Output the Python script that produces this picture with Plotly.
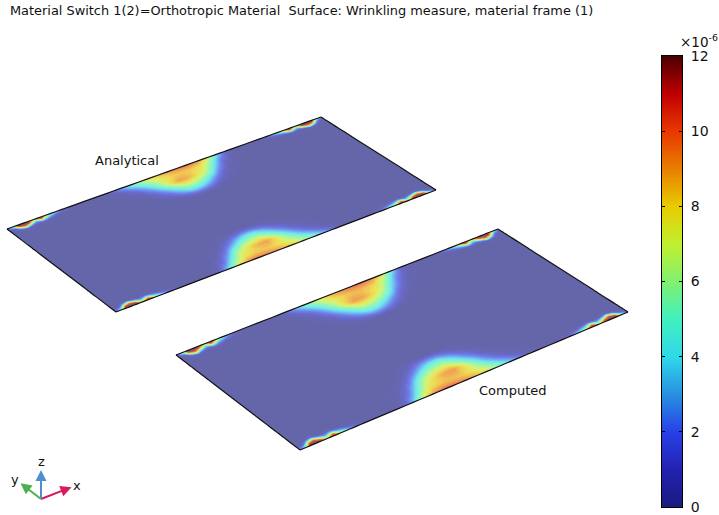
import plotly.graph_objects as go

# Plate parameter grid: a runs along the long edges, b across the short edges.
TOOTH_A = [0, .02, .035, .05, .065, .085, .105, .125, .15, .175, .2]
TOOTH_B = [0, .012, .025, .04, .055]
LOBE_A = [.30, .33, .36, .39, .42, .45, .48, .51, .54, .57, .60, .63, .66, .69, .72]
LOBE_B = [0, .02, .05, .08, .11, .14, .17, .20, .23, .26, .30]

# Wrinkling measure (units of 1e-6) near the plate corners.
TEETH_ANALYTICAL = [
    [1, 6, 12, 12, 12, 8, 12, 8, 4, 1.5, 0],
    [.5, 4, 12, 12, 12, 5, 11, 5, 2.5, .8, 0],
    [0, 1.5, 8, 11, 8, 3, 6, 3, 1, .2, 0],
    [0, .2, 3, 6, 3, 1, 2, 1, .1, 0, 0],
    [0, 0, .2, .8, .2, 0, .2, 0, 0, 0, 0],
]
TEETH_COMPUTED = [
    [1, 6, 12, 12, 12, 8, 12, 8, 4, 1.5, 0],
    [.5, 4, 12, 12, 11, 5, 11, 5, 2.5, .8, 0],
    [0, 1.5, 8, 11, 7, 3, 6, 3, 1, .2, 0],
    [0, .2, 3, 6, 2.5, 1, 2, 1, .1, 0, 0],
    [0, 0, .2, .8, .2, 0, .2, 0, 0, 0, 0],
]
# Wrinkling measure across the hot lobe on each long edge.
LOBE_ANALYTICAL_TOP = [
    [.1, 1, 3, 4.8, 6.2, 7.6, 8.6, 9.4, 10, 10.2, 9.6, 8, 4.6, 1.2, .1],
    [0, .4, 2, 3.8, 5.6, 7.2, 8.2, 8.8, 9.2, 9.3, 8.8, 7, 3.6, .7, 0],
    [0, .1, .8, 2.6, 4.4, 6.4, 7.6, 8.2, 8.4, 8.3, 7.8, 5.6, 2.2, .3, 0],
    [0, 0, .3, 1.4, 3.4, 5.6, 7.6, 8.6, 8.6, 8, 7.2, 4.2, 1.2, .1, 0],
    [0, 0, .1, .7, 2.4, 4.6, 7.6, 9.2, 8.8, 7.8, 6.2, 3, .6, 0, 0],
    [0, 0, 0, .3, 1.5, 3.6, 6, 8, 7.8, 6.8, 4.8, 1.8, .2, 0, 0],
    [0, 0, 0, .1, .8, 2.5, 4.6, 6.6, 6.4, 5.2, 3.2, .8, .1, 0, 0],
    [0, 0, 0, 0, .4, 1.5, 3.4, 5, 5, 3.8, 1.8, .3, 0, 0, 0],
    [0, 0, 0, 0, .1, .7, 2.2, 3.6, 3.6, 2.4, .8, .1, 0, 0, 0],
    [0, 0, 0, 0, 0, .2, .9, 1.8, 1.8, 1, .2, 0, 0, 0, 0],
    [0, 0, 0, 0, 0, 0, 0, 0, 0, 0, 0, 0, 0, 0, 0],
]
LOBE_ANALYTICAL_BOTTOM = [
    [.1, 1.2, 4.6, 8, 9.6, 10.2, 10, 9.4, 8.6, 7.6, 6.2, 4.8, 3, 1, .1],
    [0, .7, 3.6, 7, 8.8, 9.3, 9.2, 8.8, 8.2, 7.2, 5.6, 3.8, 2, .4, 0],
    [0, .3, 2.2, 5.6, 7.8, 8.3, 8.4, 8.2, 7.6, 6.4, 4.4, 2.6, .8, .1, 0],
    [0, .1, 1.2, 4.2, 7.2, 8, 8.6, 8.6, 7.6, 5.6, 3.4, 1.4, .3, 0, 0],
    [0, 0, .6, 3, 6.2, 7.8, 8.8, 9.2, 7.6, 4.6, 2.4, .7, .1, 0, 0],
    [0, 0, .2, 1.8, 4.8, 6.8, 7.8, 8, 6, 3.6, 1.5, .3, 0, 0, 0],
    [0, 0, .1, .8, 3.2, 5.2, 6.4, 6.6, 4.6, 2.5, .8, .1, 0, 0, 0],
    [0, 0, 0, .3, 1.8, 3.8, 5, 5, 3.4, 1.5, .4, 0, 0, 0, 0],
    [0, 0, 0, .1, .8, 2.4, 3.6, 3.6, 2.2, .7, .1, 0, 0, 0, 0],
    [0, 0, 0, 0, .2, 1, 1.8, 1.8, .9, .2, 0, 0, 0, 0, 0],
    [0, 0, 0, 0, 0, 0, 0, 0, 0, 0, 0, 0, 0, 0, 0],
]
LOBE_COMPUTED_TOP = [
    [.1, .8, 2.8, 4.6, 6.2, 7.7, 8.8, 9.6, 10.2, 10.4, 9.8, 8.2, 5, 1.5, .1],
    [0, .3, 1.8, 3.6, 5.6, 7.3, 8.4, 9, 9.4, 9.5, 9, 7.4, 4, 1, 0],
    [0, .1, .7, 2.5, 4.4, 6.5, 7.8, 8.4, 8.6, 8.5, 8, 6, 2.6, .5, 0],
    [0, 0, .3, 1.3, 3.4, 5.8, 7.8, 8.8, 8.8, 8.2, 7.4, 4.6, 1.6, .2, 0],
    [0, 0, .1, .7, 2.4, 4.8, 7.8, 9.3, 9, 8, 6.5, 3.4, .9, .1, 0],
    [0, 0, 0, .3, 1.5, 3.8, 6.2, 8.2, 8, 7, 5.2, 2.2, .4, 0, 0],
    [0, 0, 0, .1, .8, 2.6, 4.8, 6.8, 6.6, 5.6, 3.6, 1.1, .1, 0, 0],
    [0, 0, 0, 0, .4, 1.6, 3.6, 5.2, 5.2, 4, 2.1, .5, 0, 0, 0],
    [0, 0, 0, 0, .1, .8, 2.3, 3.8, 3.8, 2.6, 1, .1, 0, 0, 0],
    [0, 0, 0, 0, 0, .2, 1, 2, 2, 1.2, .3, 0, 0, 0, 0],
    [0, 0, 0, 0, 0, 0, 0, 0, 0, 0, 0, 0, 0, 0, 0],
]
LOBE_COMPUTED_BOTTOM = [
    [.1, 1.5, 5, 8.2, 9.8, 10.4, 10.2, 9.6, 8.8, 7.7, 6.2, 4.6, 2.8, .8, .1],
    [0, 1, 4, 7.4, 9, 9.5, 9.4, 9, 8.4, 7.3, 5.6, 3.6, 1.8, .3, 0],
    [0, .5, 2.6, 6, 8, 8.5, 8.6, 8.4, 7.8, 6.5, 4.4, 2.5, .7, .1, 0],
    [0, .2, 1.6, 4.6, 7.4, 8.2, 8.8, 8.8, 7.8, 5.8, 3.4, 1.3, .3, 0, 0],
    [0, .1, .9, 3.4, 6.5, 8, 9, 9.3, 7.8, 4.8, 2.4, .7, .1, 0, 0],
    [0, 0, .4, 2.2, 5.2, 7, 8, 8.2, 6.2, 3.8, 1.5, .3, 0, 0, 0],
    [0, 0, .1, 1.1, 3.6, 5.6, 6.6, 6.8, 4.8, 2.6, .8, .1, 0, 0, 0],
    [0, 0, 0, .5, 2.1, 4, 5.2, 5.2, 3.6, 1.6, .4, 0, 0, 0, 0],
    [0, 0, 0, .1, 1, 2.6, 3.8, 3.8, 2.3, .8, .1, 0, 0, 0, 0],
    [0, 0, 0, 0, .3, 1.2, 2, 2, 1, .2, 0, 0, 0, 0, 0],
    [0, 0, 0, 0, 0, 0, 0, 0, 0, 0, 0, 0, 0, 0, 0],
]

# Corners of each plate on the picture: (left, top, bottom, right).
CORNERS_ANALYTICAL = [(7, 229), (321, 117), (116, 312), (436, 190)]
CORNERS_COMPUTED = [(176, 355), (498, 229), (300, 450), (628, 312)]

COLORBAR_TICKS = [0, 2, 4, 6, 8, 10, 12]
COLORSCALE = [
    [0 / 12, "#1a1a80"], [1 / 12, "#2222b0"], [2 / 12, "#2840e8"], [3 / 12, "#2890e0"],
    [4 / 12, "#30d8e8"], [5 / 12, "#40f0c0"], [6 / 12, "#80f070"], [7 / 12, "#c0f030"],
    [8 / 12, "#e8cc00"], [9 / 12, "#e88000"], [10 / 12, "#e83800"], [11 / 12, "#c00000"],
    [12 / 12, "#4a0000"],
]


def plate_grid(teeth, lobe_top, lobe_bottom):
    end_a = [1 - v for v in reversed(TOOTH_A)]
    a_vals = TOOTH_A + LOBE_A + end_a
    rows_b = sorted(set(TOOTH_B + LOBE_B))
    b_vals = rows_b + [1 - v for v in reversed(rows_b)]

    def lookup(row_values, table, b):
        for k, v in enumerate(row_values):
            if abs(v - b) < 1e-9:
                return table[k]
        for k in range(len(row_values) - 1):
            if row_values[k] < b < row_values[k + 1]:
                t = (b - row_values[k]) / (row_values[k + 1] - row_values[k])
                return [p + (q - p) * t for p, q in zip(table[k], table[k + 1])]
        return [0] * len(table[0])

    z = []
    for b in b_vals:
        near_top = b < .5
        bb = b if near_top else 1 - b
        t = lookup(TOOTH_B, teeth, bb)
        l = lookup(LOBE_B, lobe_top if near_top else lobe_bottom, bb)
        z.append(list(t) + list(l) + list(reversed(t)))
    return a_vals, b_vals, z


def plate_xy(corners, a_vals, b_vals):
    (lx, ly), (tx, ty), (bx, by), (rx, ry) = corners
    xs, ys = [], []
    for b in b_vals:
        xs.append([lx * (1 - a) * (1 - b) + tx * a * (1 - b) + bx * (1 - a) * b + rx * a * b for a in a_vals])
        ys.append([ly * (1 - a) * (1 - b) + ty * a * (1 - b) + by * (1 - a) * b + ry * a * b for a in a_vals])
    return xs, ys


fig = go.Figure()
plates = [
    ("analytical", CORNERS_ANALYTICAL, TEETH_ANALYTICAL, LOBE_ANALYTICAL_TOP, LOBE_ANALYTICAL_BOTTOM),
    ("computed", CORNERS_COMPUTED, TEETH_COMPUTED, LOBE_COMPUTED_TOP, LOBE_COMPUTED_BOTTOM),
]
for name, corners, teeth, top, bottom in plates:
    a_vals, b_vals, z = plate_grid(teeth, top, bottom)
    xs, ys = plate_xy(corners, a_vals, b_vals)
    edge = dict(showgrid=False, minorgridcount=0, showticklabels="none",
                startline=True, endline=True, startlinecolor="#111111", endlinecolor="#111111",
                startlinewidth=1.2, endlinewidth=1.2)
    fig.add_trace(go.Carpet(carpet=name, a=a_vals, b=b_vals, x=xs, y=ys, aaxis=edge, baxis=edge))
    fig.add_trace(go.Contourcarpet(
        carpet=name, a=a_vals, b=b_vals, z=z, colorscale=COLORSCALE, zmin=0, zmax=12, opacity=.67,
        autocontour=False, contours=dict(start=0, end=12, size=.25, coloring="fill", showlines=False),
        line=dict(width=0), showscale=False))

# Colour scale column
scale_values = [v / 4 for v in range(0, 49)]
fig.add_trace(go.Heatmap(
    x=[0, 1], y=scale_values, z=[[v, v] for v in scale_values], colorscale=COLORSCALE, zmin=0, zmax=12,
    zsmooth="best", showscale=False, xaxis="x2", yaxis="y2"))

W, H = 719, 515
fig.update_layout(
    width=W, height=H, margin=dict(l=0, r=0, t=0, b=0), paper_bgcolor="white", plot_bgcolor="rgba(0,0,0,0)",
    font=dict(family="DejaVu Sans", size=13, color="#111111"), showlegend=False,
    xaxis=dict(domain=[0, 1], range=[0, W], visible=False, automargin=False),
    yaxis=dict(domain=[0, 1], range=[H, 0], visible=False, automargin=False),
    xaxis2=dict(domain=[662 / W, 682 / W], range=[0, 1], showticklabels=False, ticks="", showgrid=False, automargin=False,
                zeroline=False, showline=True, linecolor="black", linewidth=1, mirror=True, anchor="y2"),
    yaxis2=dict(domain=[1 - 507 / H, 1 - 56 / H], range=[0, 12], tickvals=COLORBAR_TICKS, side="right", anchor="x2",
                ticks="inside", ticklen=3, tickcolor="black", mirror="ticks", showline=True, linecolor="black",
                linewidth=1, showgrid=False, zeroline=False, ticklabelstandoff=5, automargin=False,
                tickfont=dict(size=14, color="#111111")),
)

ann = [
    dict(x=8, y=10, text="Material Switch 1(2)=Orthotropic Material\u00a0\u00a0Surface: Wrinkling measure, material frame (1)",
         xanchor="left", font=dict(size=12.9)),
    dict(x=127, y=160, text="Analytical"),
    dict(x=513, y=390, text="Computed"),
    dict(x=699, y=41, text="×10<sup>-6</sup>", font=dict(size=13.5)),
]
for a in ann:
    fig.add_annotation(xref="x", yref="y", showarrow=False, **a)

# Orientation triad: each arrow runs from the common origin to its axis letter.
TRIAD_ORIGIN = (41, 499)
TRIAD = [("x", (77, 485), "#d81b60"), ("y", (15, 479), "#4caf50"), ("z", (41, 461), "#4f8fd0")]
for label, pos, color in TRIAD:
    fig.add_annotation(xref="x", yref="y", axref="x", ayref="y", x=TRIAD_ORIGIN[0], y=TRIAD_ORIGIN[1],
                       ax=pos[0], ay=pos[1], text=label, showarrow=True, arrowside="start", startarrowhead=2,
                       startarrowsize=1.1, arrowwidth=2, arrowcolor=color)

fig.write_html("out.html", config={"displayModeBar": False}, post_script="document.body.style.margin='0';")
